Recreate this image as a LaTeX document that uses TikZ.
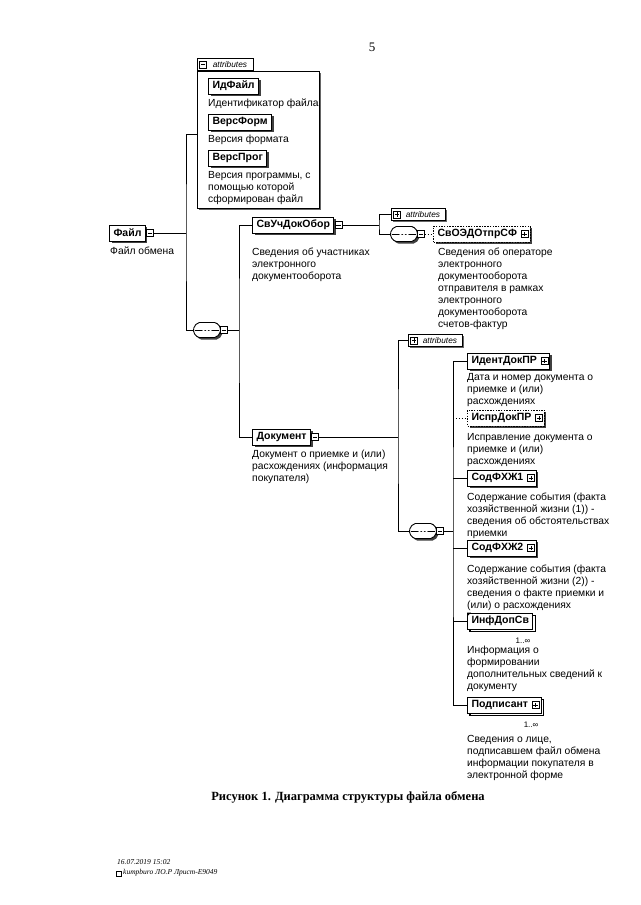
\documentclass[tikz,border=0pt]{standalone}
\usepackage{fontspec}
\setmainfont{Liberation Sans}
\newfontfamily\timesfont{Liberation Serif}
\usetikzlibrary{shapes.misc,shadows}
\begin{document}
\begin{tikzpicture}[
x=1pt,y=-1pt,
elem/.style={draw,line width=1pt,fill=white,anchor=west,minimum height=16,inner xsep=4,inner ysep=0,font=\fontsize{10.5}{12}\selectfont\bfseries,drop shadow={shadow xshift=2pt,shadow yshift=-2pt,fill=black!75,opacity=1}},
optelem/.style={elem,dash pattern=on 1.5pt off 1.2pt},
multi/.style={elem,copy shadow={shadow xshift=2.5pt,shadow yshift=-2.5pt,line width=1.2pt}},
desc/.style={anchor=north west,align=left,inner sep=0,font=\fontsize{10.3}{12}\selectfont},
btn/.style={draw,fill=white,line width=0.6pt,minimum size=7,inner sep=0},
plusbtn/.style={btn,path picture={\draw[line width=0.5pt]([xshift=1.3pt]path picture bounding box.west)--([xshift=-1.3pt]path picture bounding box.east)([yshift=-1.3pt]path picture bounding box.north)--([yshift=1.3pt]path picture bounding box.south);}},
minusbtn/.style={btn,path picture={\draw[line width=0.5pt]([xshift=1.3pt]path picture bounding box.west)--([xshift=-1.3pt]path picture bounding box.east);}},
seq/.style={rounded rectangle,rounded rectangle arc length=150,draw,fill=white,line width=0.9pt,minimum width=27,minimum height=15,inner sep=0,drop shadow={shadow xshift=2pt,shadow yshift=-2pt,fill=black!75,opacity=1},
path picture={\draw[line width=0.7pt]([xshift=2pt]path picture bounding box.west)--([xshift=-2pt]path picture bounding box.east);
\foreach \d in {-3.5,0,3.5}\fill([xshift=\d pt]path picture bounding box.center)circle(1.4);}},
tab/.style={draw,line width=0.9pt,fill=white,anchor=south west,minimum height=12,minimum width=54,inner xsep=2,inner ysep=0,font=\fontsize{8.3}{9}\selectfont\itshape},
attrbox/.style={draw,line width=1.1pt,fill=white,anchor=north west,minimum width=122,minimum height=137,drop shadow={shadow xshift=1.5pt,shadow yshift=-1.5pt,fill=black!60,opacity=1}},
mult/.style={anchor=north east,inner sep=0,font=\fontsize{8}{9}\selectfont},
link/.style={line width=0.9pt},
optlink/.style={link,dotted},
pagenum/.style={font=\timesfont\fontsize{13}{15}\selectfont},
caption/.style={font=\timesfont\bfseries\fontsize{12.5}{15}\selectfont},
footer/.style={anchor=north west,align=left,inner sep=0,font=\timesfont\itshape\fontsize{7.5}{10}\selectfont},
]
\fill[white](0,0)rectangle(640,905);
\useasboundingbox(0,0)rectangle(640,905);
%page number
\node[pagenum](pageNo)at(372,47){5};
%attributes of the file
\node[attrbox](attrTop)at(197,71){};
\node[tab,minimum width=56](attrTopTab)at(197,71){\hspace*{9pt}attributes};
\node[minusbtn](attrTopBtn)at([xshift=6]attrTopTab.west){};
\node[elem](idFile)at(208,86){ИдФайл};
\node[desc](idFileTxt)at(208,99){Идентификатор файла};
\node[elem](versForm)at(208,122){ВерсФорм};
\node[desc](versFormTxt)at(208,135){Версия формата};
\node[elem](versProg)at(208,158){ВерсПрог};
\node[desc](versProgTxt)at(208,171){Версия программы, с\\помощью которой\\сформирован файл};
%root element
\node[elem](file)at(109,233){Файл};
\node[minusbtn](fileBtn)at([xshift=4]file.east){};
\node[desc](fileTxt)at(110,247){Файл обмена};
\node[seq](seqMain)at(207,330){};
\node[minusbtn](seqMainBtn)at([xshift=3]seqMain.east){};
%participants
\node[elem](svUch)at(252,225){СвУчДокОбор};
\node[minusbtn](svUchBtn)at([xshift=4]svUch.east){};
\node[desc](svUchTxt)at(252,248){Сведения об участниках\\электронного\\документооборота};
\node[tab,drop shadow={shadow xshift=1.5pt,shadow yshift=-1.5pt,fill=black!60,opacity=1}](attrSv)at(391,221){\hspace*{9pt}attributes};
\node[plusbtn](attrSvBtn)at([xshift=6]attrSv.west){};
\node[seq](seqSv)at(404,234){};
\node[minusbtn](seqSvBtn)at([xshift=3]seqSv.east){};
\node[optelem](svOED)at(433,234){СвОЭДОтпрСФ\hspace*{9pt}};
\node[plusbtn](svOEDBtn)at([xshift=-6]svOED.east){};
\node[desc](svOEDTxt)at(438,248){Сведения об операторе\\электронного\\документооборота\\отправителя в рамках\\электронного\\документооборота\\счетов-фактур};
%document
\node[elem](dok)at(252,437){Документ};
\node[minusbtn](dokBtn)at([xshift=4]dok.east){};
\node[desc](dokTxt)at(252,450){Документ о приемке и (или)\\расхождениях (информация\\покупателя)};
\node[tab,drop shadow={shadow xshift=1.5pt,shadow yshift=-1.5pt,fill=black!60,opacity=1}](attrDok)at(408,347){\hspace*{9pt}attributes};
\node[plusbtn](attrDokBtn)at([xshift=6]attrDok.west){};
\node[seq](seqDok)at(423,531){};
\node[minusbtn](seqDokBtn)at([xshift=3]seqDok.east){};
%document children
\node[elem](ident)at(467,361){ИдентДокПР\hspace*{9pt}};
\node[plusbtn](identBtn)at([xshift=-6]ident.east){};
\node[desc](identTxt)at(467,373){Дата и номер документа о\\приемке и (или)\\расхождениях};
\node[optelem](ispr)at(467,418){ИспрДокПР\hspace*{9pt}};
\node[plusbtn](isprBtn)at([xshift=-6]ispr.east){};
\node[desc](isprTxt)at(467,433){Исправление документа о\\приемке и (или)\\расхождениях};
\node[elem](sod1)at(467,478){СодФХЖ1\hspace*{9pt}};
\node[plusbtn](sod1Btn)at([xshift=-6]sod1.east){};
\node[desc](sod1Txt)at(467,493){Содержание события (факта\\хозяйственной жизни (1)) -\\сведения об обстоятельствах\\приемки};
\node[elem](sod2)at(467,548){СодФХЖ2\hspace*{9pt}};
\node[plusbtn](sod2Btn)at([xshift=-6]sod2.east){};
\node[desc](sod2Txt)at(467,565){Содержание события (факта\\хозяйственной жизни (2)) -\\сведения о факте приемки и\\(или) о расхождениях};
\node[multi](inf)at(467,621){ИнфДопСв};
\fill(inf.north west)--++(4,0)--++(-4,4)--cycle;
\node[mult](infMult)at([shift={(-3,8)}]inf.south east){1..∞};
\node[desc](infTxt)at(467,646){Информация о\\формировании\\дополнительных сведений к\\документу};
\node[multi](podp)at(467,705){Подписант\hspace*{9pt}};
\node[plusbtn](podpBtn)at([xshift=-6]podp.east){};
\node[mult](podpMult)at([shift={(-3,8)}]podp.south east){1..∞};
\node[desc](podpTxt)at(467,735){Сведения о лице,\\подписавшем файл обмена\\информации покупателя в\\электронной форме};
%links
\coordinate(tFile)at(186,233);
\coordinate(tFileTop)at(186,134);
\draw[link](fileBtn.east)--(tFile);
\draw[link](attrTop.west|-tFileTop)-|(tFile)|-(seqMain.west);
\coordinate(tMain)at(239,330);
\draw[link](seqMainBtn.east)--(tMain);
\draw[link](svUch.west)-|(tMain)|-(dok.west);
\coordinate(tSv)at(379,225);
\draw[link](svUchBtn.east)--(tSv);
\draw[link](attrSv.west)-|(tSv)|-(seqSv.west);
\draw[optlink](seqSvBtn.east)--(svOED.west);
\coordinate(tDok)at(398,437);
\draw[link](dokBtn.east)--(tDok);
\draw[link](attrDok.west)-|(tDok)|-(seqDok.west);
\coordinate(tSeq)at(453,531);
\draw[link](seqDokBtn.east)--(tSeq);
\draw[link](ident.west)-|(tSeq)|-(podp.west);
\draw[optlink](ispr.west-|tSeq)--(ispr.west);
\draw[link](sod1.west-|tSeq)--(sod1.west);
\draw[link](sod2.west-|tSeq)--(sod2.west);
\draw[link](inf.west-|tSeq)--(inf.west);
%caption
\node[caption](figCap)at(348,797){Рисунок 1. Диаграмма структуры файла обмена};
%stamp
\node[draw,line width=0.5pt,minimum size=5,inner sep=0](stampIcon)at(119,874){};
\node[footer](stamp)at(117,859){16.07.2019 15:02\\\hspace*{6pt}kumpburo ЛО.Р Лрист-E9049};
\end{tikzpicture}
\end{document}
